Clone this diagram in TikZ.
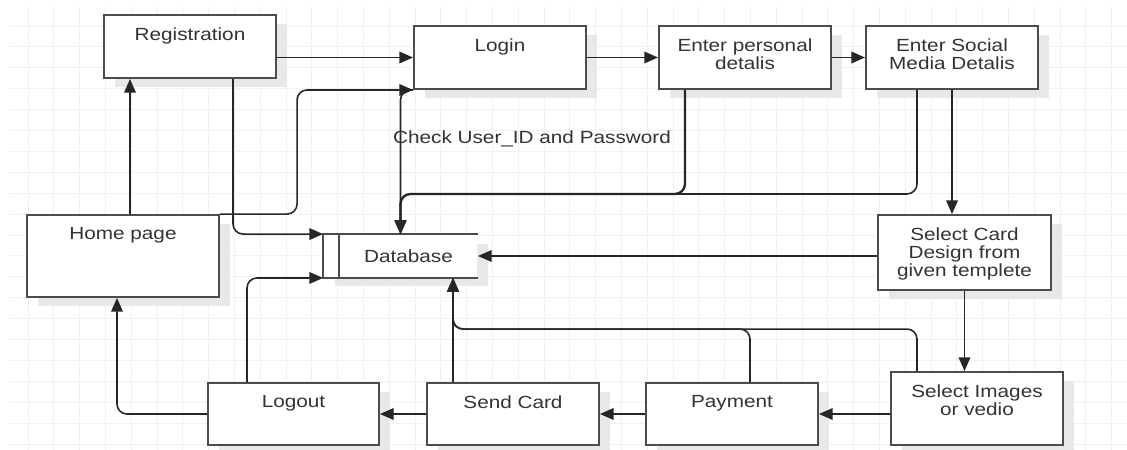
\documentclass[tikz,border=0pt]{standalone}
\usepackage{fontspec}
\setmainfont{Liberation Sans}[FakeStretch=1.18]
\usetikzlibrary{arrows.meta,calc,shadows}

\tikzset{
  flowbox/.style={rectangle, draw=black!70, line width=1.1pt, fill=white, inner sep=0pt,
    drop shadow={shadow xshift=0.22cm, shadow yshift=-0.18cm, fill=black!9, opacity=1}},
  boxtext/.style={anchor=north, inner sep=0pt, yshift=-0.27cm, align=center,
    text=black!80, font=\fontsize{10}{10.3}\selectfont},
  plaintext/.style={inner sep=0pt, text=black!80, font=\fontsize{10}{10.3}\selectfont},
  link/.style={draw=black!85, line width=0.9pt, rounded corners=0.2cm,
    -{Triangle[length=7.8pt,width=6.6pt]}},
  gridline/.style={draw=black!6, line width=0.5pt}
}

\begin{document}
\begin{tikzpicture}[x=0.02cm, y=-0.02cm]
        \useasboundingbox (0,0) rectangle (1127,450);
        \fill[white] (0,0) rectangle (1127,450);

        % grid
        \foreach \i in {0,...,42}
          \draw[gridline] ({28+25.8*\i},7) -- ({28+25.8*\i},450);
        \foreach \j in {0,...,20}
          \draw[gridline] (9,{26+20.9*\j}) -- (1127,{26+20.9*\j});

        % boxes
        \node[flowbox, minimum width=3.44cm, minimum height=1.26cm, label={[boxtext]north:Registration}] (reg) at (190,46.5) {};
        \node[flowbox, minimum width=3.44cm, minimum height=1.26cm, label={[boxtext]north:Login}] (login) at (500,57.5) {};
        \node[flowbox, minimum width=3.44cm, minimum height=1.26cm, label={[boxtext]north:Enter personal\\detalis}] (pers) at (745,57.5) {};
        \node[flowbox, minimum width=3.44cm, minimum height=1.26cm, label={[boxtext]north:Enter Social\\Media Detalis}] (soc) at (952,57.5) {};
        \node[flowbox, minimum width=3.84cm, minimum height=1.64cm, label={[boxtext]north:Home page}] (home) at (123,256) {};
        \node[flowbox, minimum width=3.46cm, minimum height=1.5cm, label={[boxtext]north:Select Card\\Design from\\given templete}] (card) at (964.5,252.5) {};
        \node[flowbox, minimum width=3.44cm, minimum height=1.46cm, label={[boxtext]north:Select Images\\or vedio}] (imgs) at (977,408.5) {};
        \node[flowbox, minimum width=3.44cm, minimum height=1.24cm, label={[boxtext]north:Payment}] (pay) at (732,414) {};
        \node[flowbox, minimum width=3.44cm, minimum height=1.24cm, label={[boxtext]north:Send Card}] (send) at (513,414) {};
        \node[flowbox, minimum width=3.42cm, minimum height=1.24cm, label={[boxtext]north:Logout}] (logout) at (293.5,414) {};

        % data store
        \node[flowbox, draw=none, minimum width=3.06cm, minimum height=0.84cm,
          label={[plaintext, xshift=0.16cm]center:Database}] (db) at (400.5,256) {};
        \draw[draw=black!70, line width=1.1pt] (db.north east) -- (db.north west) -- (db.south west) -- (db.south east);
        \draw[draw=black!70, line width=1.1pt] ($(db.north west)+(16,0)$) -- ($(db.south west)+(16,0)$);

        % top row
        \coordinate (hreg) at ($(home.north)+(7,0)$);
        \draw[link] (hreg) -- (hreg |- reg.south);
        \draw[link] (login.west -| reg.east) -- (login.west);
        \draw[link] (home.north east) -| ($(login.south west)+(-116,0)$) -- (login.south west);
        \draw[link] (pers.west -| login.east) -- (pers.west);
        \draw[link] (soc.west -| pers.east) -- (soc.west);

        % into the database from above
        \coordinate (rdb) at ($(reg.south)+(43,0)$);
        \draw[link] (rdb) |- (db.north west);
        \draw[link] (login.south west) -| (db.north);
        \node[plaintext] (chk) at (532,139) {Check User\_ID and Password};
        \coordinate (pdb) at ($(pers.south)+(-60,0)$);
        \draw[link, line width=1.3pt] (pdb) -- ++(0,104) -| (db.north);
        \coordinate (sdb) at ($(soc.south)+(-35,0)$);
        \draw[link] (sdb) -- ++(0,104) -| (db.north);

        % right column
        \draw[link] (soc.south) -- (soc.south |- card.north);
        \draw[link] (card.west |- db.east) -- (db.east);
        \draw[link] (card.south) -- (card.south |- imgs.north);

        % bottom row
        \draw[link] (imgs.west |- pay.east) -- (pay.east);
        \draw[link] (pay.west) -- (send.east);
        \draw[link] (send.west) -- (logout.east);
        \coordinate (hlog) at ($(home.south)+(-6,0)$);
        \draw[link] (logout.west) -| (hlog);

        % into the database from below
        \coordinate (ldb) at ($(logout.north)+(-46.5,0)$);
        \draw[link] (ldb) |- (db.south west);
        \coordinate (dbin) at ($(db.south)+(52.5,0)$);
        \draw[link] (send.north -| dbin) -- (dbin);
        \coordinate (paydb) at ($(pay.north)+(18,0)$);
        \draw[link] (paydb) -- ++(0,-53) -| (dbin);
        \coordinate (imgdb) at ($(imgs.north)+(-60,0)$);
        \draw[link] (imgdb) -- ++(0,-42) -| (dbin);
\end{tikzpicture}
\end{document}
